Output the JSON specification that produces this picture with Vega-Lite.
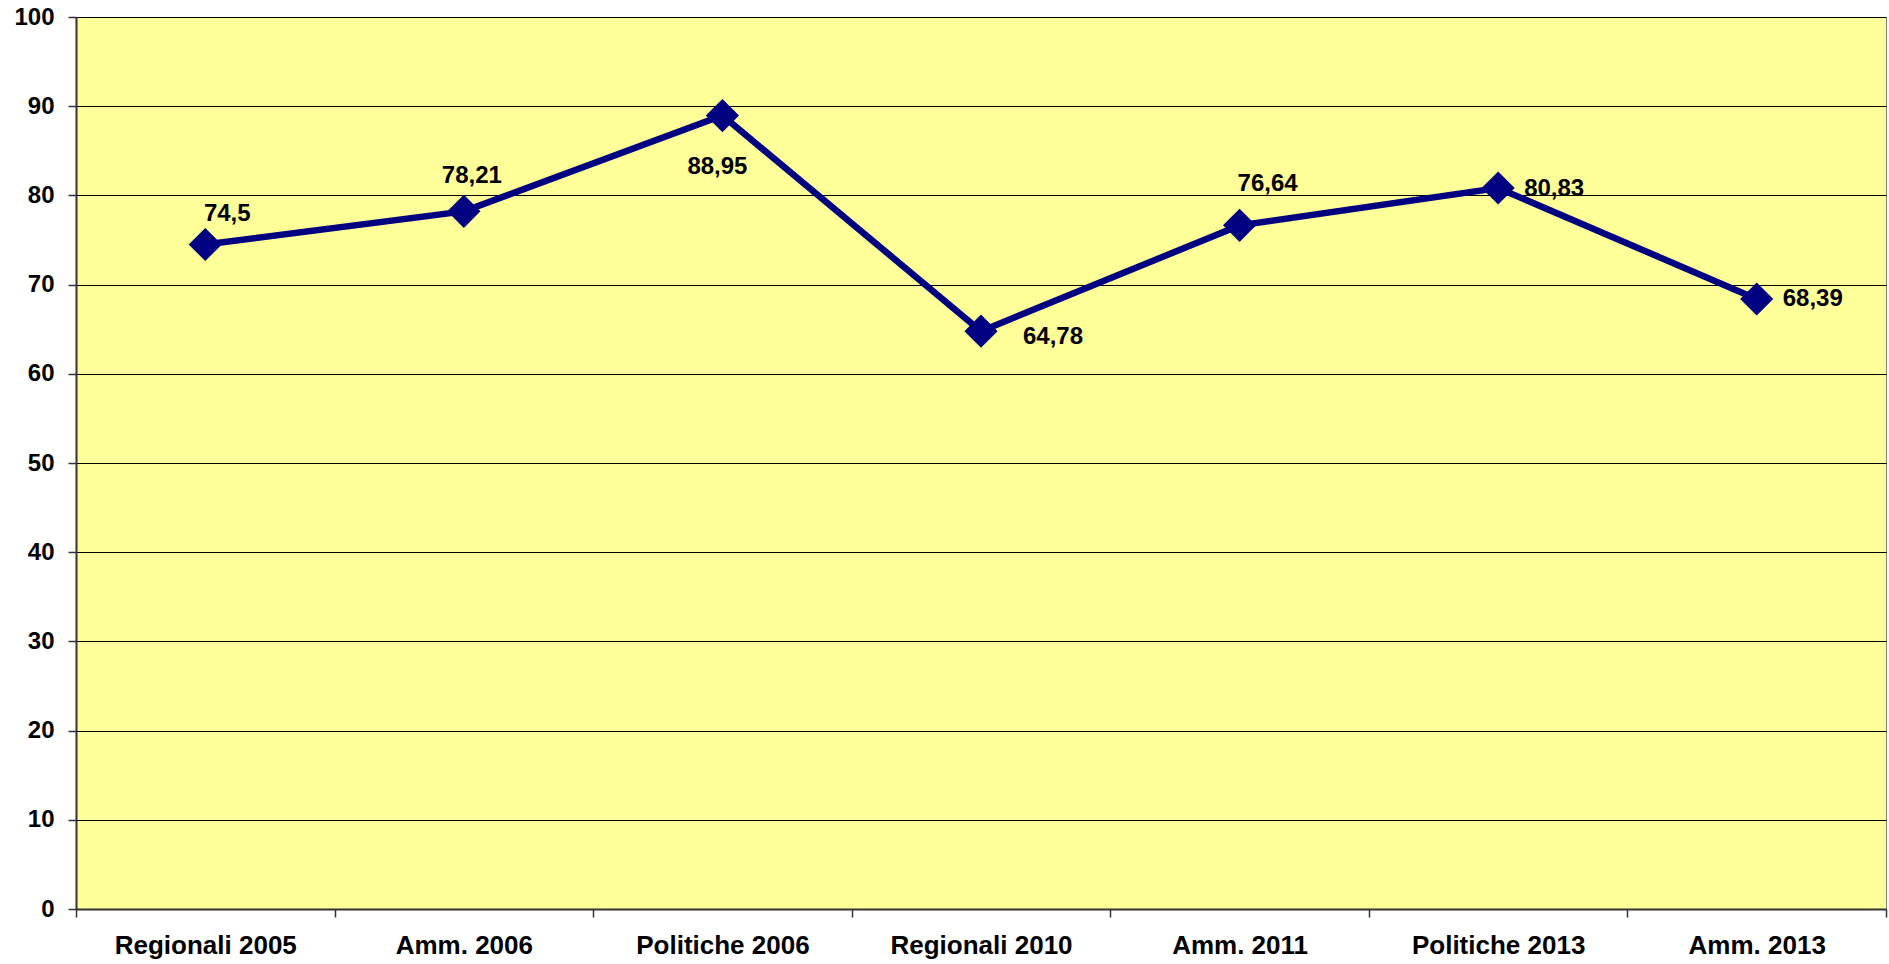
{
  "$schema": "https://vega.github.io/schema/vega-lite/v6.json",
  "width": 1810,
  "height": 892,
  "autosize": {"type": "none"},
  "padding": {"left": 76, "top": 17, "right": 3, "bottom": 55},
  "background": "white",
  "config": {
    "view": {"fill": "#FFFF99", "stroke": "#808080", "strokeWidth": 1},
    "font": "Liberation Sans"
  },
  "data": {
    "values": [
      {"elezione": "Regionali 2005", "valore": 74.5, "etichetta": "74,5"},
      {"elezione": "Amm. 2006", "valore": 78.21, "etichetta": "78,21"},
      {"elezione": "Politiche 2006", "valore": 88.95, "etichetta": "88,95"},
      {"elezione": "Regionali 2010", "valore": 64.78, "etichetta": "64,78"},
      {"elezione": "Amm. 2011", "valore": 76.64, "etichetta": "76,64"},
      {"elezione": "Politiche 2013", "valore": 80.83, "etichetta": "80,83"},
      {"elezione": "Amm. 2013", "valore": 68.39, "etichetta": "68,39"}
    ]
  },
  "encoding": {
    "x": {
      "field": "elezione",
      "type": "nominal",
      "sort": null,
      "bandPosition": 0.5,
      "scale": {"type": "band", "paddingInner": 0, "paddingOuter": 0},
      "axis": {
        "title": null,
        "labelAngle": 0,
        "labelFont": "Liberation Sans",
        "labelFontSize": 26,
        "labelFontWeight": "bold",
        "labelColor": "black",
        "labelPadding": 15,
        "labelLimit": 0,
        "labelOverlap": false,
        "tickBand": "extent",
        "tickSize": 8,
        "tickColor": "#333333",
        "tickWidth": 1.5,
        "domainColor": "#333333",
        "domainWidth": 2,
        "grid": false
      }
    },
    "y": {
      "field": "valore",
      "type": "quantitative",
      "scale": {"domain": [0, 100], "nice": false},
      "axis": {
        "title": null,
        "values": [0, 10, 20, 30, 40, 50, 60, 70, 80, 90, 100],
        "labelFont": "Liberation Sans",
        "labelFontSize": 24,
        "labelFontWeight": "bold",
        "labelColor": "black",
        "labelPadding": 14,
        "tickSize": 8,
        "tickColor": "#333333",
        "tickWidth": 1.5,
        "domainColor": "#333333",
        "domainWidth": 2,
        "grid": true,
        "gridColor": "#000000",
        "gridWidth": 1.2,
        "gridOpacity": 1
      }
    }
  },
  "layer": [
    {"mark": {"type": "line", "color": "#000080", "strokeWidth": 6.5}},
    {"mark": {"type": "point", "shape": "diamond", "size": 1100, "filled": true, "color": "#000080", "opacity": 1}},
    {"transform": [{"filter": "datum.elezione == 'Regionali 2005'"}],
     "mark": {"type": "text", "align": "center", "baseline": "alphabetic", "dx": 22, "dy": -23, "fontSize": 24, "fontWeight": "bold", "color": "black"},
     "encoding": {"text": {"field": "etichetta"}}},
    {"transform": [{"filter": "datum.elezione == 'Amm. 2006'"}],
     "mark": {"type": "text", "align": "center", "baseline": "alphabetic", "dx": 8, "dy": -28, "fontSize": 24, "fontWeight": "bold", "color": "black"},
     "encoding": {"text": {"field": "etichetta"}}},
    {"transform": [{"filter": "datum.elezione == 'Politiche 2006'"}],
     "mark": {"type": "text", "align": "center", "baseline": "alphabetic", "dx": -5, "dy": 58, "fontSize": 24, "fontWeight": "bold", "color": "black"},
     "encoding": {"text": {"field": "etichetta"}}},
    {"transform": [{"filter": "datum.elezione == 'Regionali 2010'"}],
     "mark": {"type": "text", "align": "left", "baseline": "alphabetic", "dx": 42, "dy": 13, "fontSize": 24, "fontWeight": "bold", "color": "black"},
     "encoding": {"text": {"field": "etichetta"}}},
    {"transform": [{"filter": "datum.elezione == 'Amm. 2011'"}],
     "mark": {"type": "text", "align": "center", "baseline": "alphabetic", "dx": 28, "dy": -34, "fontSize": 24, "fontWeight": "bold", "color": "black"},
     "encoding": {"text": {"field": "etichetta"}}},
    {"transform": [{"filter": "datum.elezione == 'Politiche 2013'"}],
     "mark": {"type": "text", "align": "left", "baseline": "alphabetic", "dx": 26, "dy": 8, "fontSize": 24, "fontWeight": "bold", "color": "black"},
     "encoding": {"text": {"field": "etichetta"}}},
    {"transform": [{"filter": "datum.elezione == 'Amm. 2013'"}],
     "mark": {"type": "text", "align": "left", "baseline": "alphabetic", "dx": 26, "dy": 7, "fontSize": 24, "fontWeight": "bold", "color": "black"},
     "encoding": {"text": {"field": "etichetta"}}}
  ]
}
